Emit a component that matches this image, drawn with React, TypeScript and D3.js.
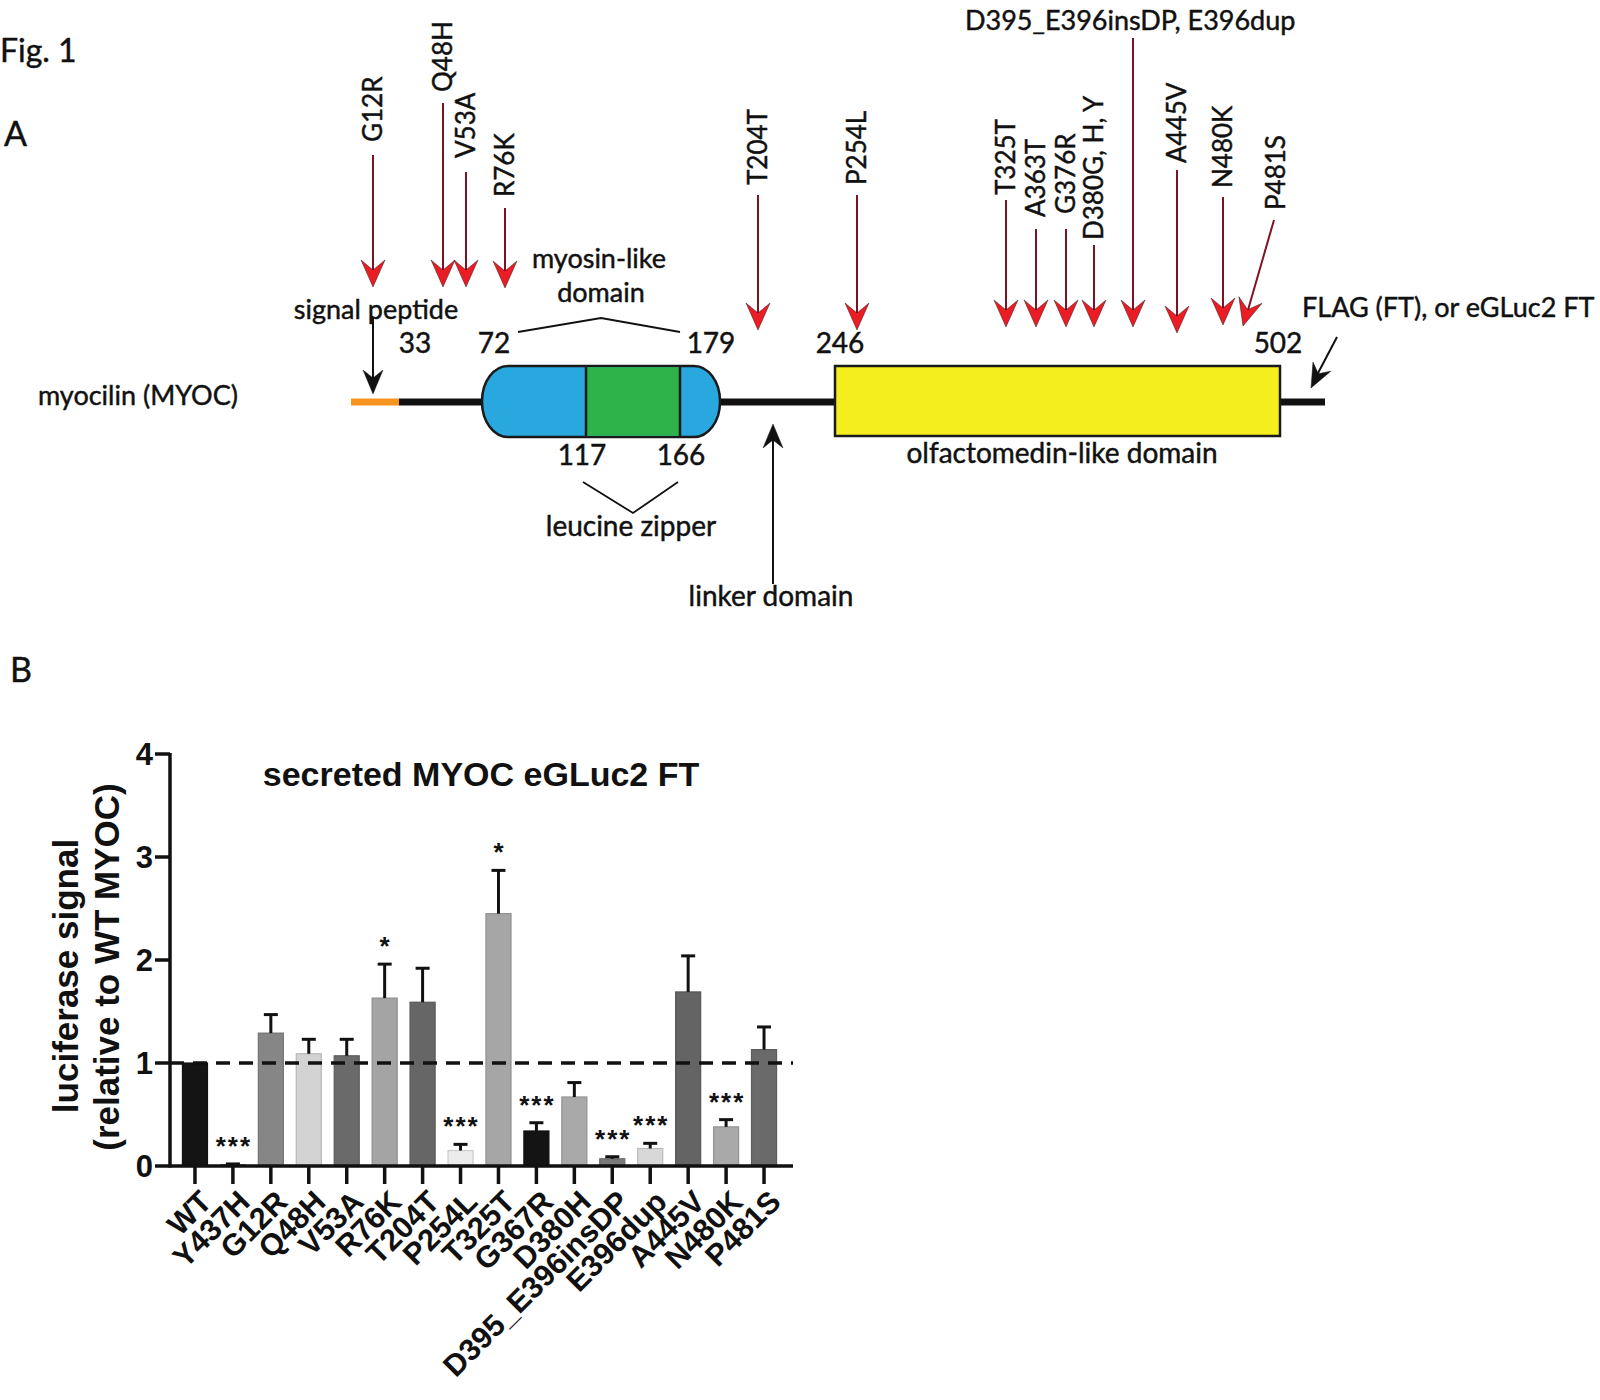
import React from "react";
import * as d3 from "d3";

// ---------- Panel B data ----------
const categories = ["WT", "Y437H", "G12R", "Q48H", "V53A", "R76K", "T204T", "P254L", "T325T", "G367R", "D380H", "D395_E396insDP", "E396dup", "A445V", "N480K", "P481S"];
const means = [1.0, 0.01, 1.29, 1.09, 1.07, 1.63, 1.59, 0.15, 2.45, 0.34, 0.67, 0.07, 0.17, 1.69, 0.38, 1.13];
const sems = [0, 0.01, 0.18, 0.14, 0.16, 0.33, 0.33, 0.06, 0.42, 0.08, 0.14, 0.02, 0.05, 0.35, 0.07, 0.22];
const fills = ["#141414", "#3a3a3a", "#868686", "#d3d3d3", "#6a6a6a", "#a4a4a4", "#666666", "#ececec", "#a6a6a6", "#141414", "#a9a9a9", "#7a7a7a", "#d8d8d8", "#646464", "#a9a9a9", "#6a6a6a"];
const signif = ["", "***", "", "", "", "*", "", "***", "*", "***", "", "***", "***", "", "***", ""];
const yTicks = [0, 1, 2, 3, 4];
const referenceLevel = 1;

// ---------- Panel A data ----------
const residueKnots = [1, 33, 72, 117, 166, 179, 246, 502, 504];
const schematicStops = [351, 399, 482, 586, 680, 720, 835, 1280, 1325];
const positionLabelsTop = [33, 72, 179, 246, 502];
const positionLabelsBottom = [117, 166];
const mutationLabels = ["G12R", "Q48H", "V53A", "R76K", "T204T", "P254L", "T325T", "A363T", "G376R", "D380G, H, Y", "A445V", "N480K"];
const mutationMarkX = [373, 443, 466, 505, 758, 857, 1006, 1036, 1066, 1094, 1177, 1223];
const mutationLabelBase = [142, 92, 158, 197, 185, 185, 195, 217, 214, 240, 163, 188];
const mutationLineTop = [155, 103, 172, 208, 195, 195, 200, 229, 229, 245, 170, 197];
const mutationTip = [287, 287, 287, 288, 330, 330, 327, 327, 327, 327, 333, 325];

const fontA = "Lato, 'Open Sans', sans-serif";
const fontB = "'Liberation Sans', Arial, sans-serif";

function ArrowHead({ x, y, angle, fill, w = 12, l = 27, n = 17 }: any) {
  return (
    <path
      d={`M0,0 L${-w},${-l} L0,${-n} L${w},${-l} Z`}
      transform={`translate(${x},${y}) rotate(${angle})`}
      fill={fill}
    />
  );
}

function PanelA() {
  const xs = d3.scaleLinear().domain(residueKnots).range(schematicStops);
  const lineY = 402;
  const boxTop = 366;
  const boxH = 71;
  const red = "#ec1c24";
  const dark = "#7d1422";
  const topOffset: Record<number, number> = { 33: 16, 72: 12, 179: -9, 246: 5, 502: -2 };
  const botOffset: Record<number, number> = { 117: -4, 166: 1 };
  return (
    <g fontFamily={fontA} fill="#111" stroke="#111" strokeWidth={0.45}>
      <text x={0} y={62} fontSize={32}>Fig. 1</text>
      <text x={4} y={146} fontSize={34}>A</text>
      <text x={38} y={405} fontSize={27}>myocilin (MYOC)</text>

      {/* backbone */}
      <line x1={xs(1)} x2={xs(33)} y1={lineY} y2={lineY} stroke="#f7941d" strokeWidth={7} />
      <line x1={xs(33)} x2={xs(504)} y1={lineY} y2={lineY} stroke="#111" strokeWidth={7} />

      {/* myosin-like domain capsule */}
      <rect x={xs(72)} y={boxTop} width={xs(179) - xs(72)} height={boxH} rx={26} ry={35} fill="#29a7df" stroke="#1a1a1a" strokeWidth={2.5} />
      <rect x={xs(117)} y={boxTop + 1.2} width={xs(166) - xs(117)} height={boxH - 2.4} fill="#2eb24a" stroke="none" />
      <line x1={xs(117)} x2={xs(117)} y1={boxTop} y2={boxTop + boxH} stroke="#1a1a1a" strokeWidth={2.5} />
      <line x1={xs(166)} x2={xs(166)} y1={boxTop} y2={boxTop + boxH} stroke="#1a1a1a" strokeWidth={2.5} />

      {/* olfactomedin domain */}
      <rect x={xs(246)} y={boxTop} width={xs(502) - xs(246)} height={boxH - 1} fill="#f5ee1e" stroke="#1a1a1a" strokeWidth={2.5} />

      {/* position numbers */}
      {positionLabelsTop.map((p) => (
        <text key={"t" + p} x={xs(p) + topOffset[p]} y={353} fontSize={28} textAnchor="middle">{p}</text>
      ))}
      {positionLabelsBottom.map((p) => (
        <text key={"b" + p} x={xs(p) + botOffset[p]} y={465} fontSize={28} textAnchor="middle">{p}</text>
      ))}

      {/* brackets */}
      <polyline points={`${xs(72) + 36},332 ${(xs(72) + xs(179)) / 2},318 ${xs(179) - 40},332`} fill="none" stroke="#111" strokeWidth={1.8} />
      <text x={599} y={268} fontSize={27} textAnchor="middle">myosin-like</text>
      <text x={601} y={302} fontSize={27} textAnchor="middle">domain</text>
      <polyline points={`${xs(117) - 3},482 ${(xs(117) + xs(166)) / 2},513 ${xs(166) - 2},482`} fill="none" stroke="#111" strokeWidth={1.8} />
      <text x={631} y={536} fontSize={28} textAnchor="middle">leucine zipper</text>
      <text x={1062} y={463} fontSize={28} textAnchor="middle">olfactomedin-like domain</text>

      {/* signal peptide */}
      <text x={376} y={319} fontSize={27} textAnchor="middle">signal peptide</text>
      <line x1={373} x2={373} y1={318} y2={378} stroke="#111" strokeWidth={2} />
      <ArrowHead x={373} y={394} angle={0} fill="#111" w={10} l={24} n={16} />

      {/* linker */}
      <line x1={773} x2={773} y1={584} y2={440} stroke="#111" strokeWidth={2} />
      <ArrowHead x={773} y={424} angle={180} fill="#111" w={10} l={24} n={16} />
      <text x={771} y={606} fontSize={28} textAnchor="middle">linker domain</text>

      {/* FLAG */}
      <text x={1302} y={317} fontSize={27}>FLAG (FT), or eGLuc2 FT</text>
      <line x1={1337} x2={1317} y1={337} y2={375} stroke="#111" strokeWidth={2} />
      <ArrowHead x={1311} y={388} angle={27} fill="#111" w={10} l={24} n={16} />

      {/* mutations */}
      {mutationLabels.map((m, i) => {
        const x = mutationMarkX[i];
        return (
          <g key={m}>
            <text transform={`translate(${x + 9},${mutationLabelBase[i]}) rotate(-90)`} fontSize={26}>{m}</text>
            <line x1={x} x2={x} y1={mutationLineTop[i]} y2={mutationTip[i] - 16} stroke={dark} strokeWidth={2} />
            <ArrowHead x={x} y={mutationTip[i]} angle={0} fill={red} />
          </g>
        );
      })}
      {/* insertion/duplication */}
      <text x={965} y={30} fontSize={27}>D395_E396insDP, E396dup</text>
      <line x1={1133} x2={1133} y1={38} y2={311} stroke={dark} strokeWidth={2} />
      <ArrowHead x={1133} y={327} angle={0} fill={red} />
      {/* P481S slanted */}
      <text transform={`translate(${1285},${210}) rotate(-90)`} fontSize={26}>P481S</text>
      <line x1={1274} x2={1248} y1={220} y2={310} stroke={dark} strokeWidth={2} />
      <ArrowHead x={1243} y={326} angle={16} fill={red} />
    </g>
  );
}

function PanelB() {
  const y0 = 1166;
  const axisX = 170;
  const axisEnd = 793;
  const y = d3.scaleLinear().domain([0, 4]).range([y0, 754]);
  const x = d3.scaleBand<string>().domain(categories).range([176, 783]).paddingInner(0.34).paddingOuter(0.17);
  const bw = x.bandwidth();
  return (
    <g fontFamily={fontB} fontWeight="bold" fill="#111">
      <text x={10} y={682} fontSize={34} fontWeight="normal" fontFamily={fontA} stroke="#111" strokeWidth={0.45}>B</text>
      <text x={481} y={786} fontSize={34} textAnchor="middle">secreted MYOC eGLuc2 FT</text>
      <text transform={`translate(78,976) rotate(-90)`} fontSize={35} textAnchor="middle">luciferase signal</text>
      <text transform={`translate(119,967) rotate(-90)`} fontSize={35} textAnchor="middle">(relative to WT MYOC)</text>

      {/* bars */}
      {categories.map((c, i) => {
        const cx = (x(c) as number) + bw / 2;
        const top = y(means[i]);
        const errTop = y(means[i] + sems[i]);
        const stroke = d3.color(fills[i])!.darker(0.4).toString();
        return (
          <g key={c}>
            <rect x={x(c)} y={top} width={bw} height={y0 - top} fill={fills[i]} stroke={stroke} strokeWidth={1.2} />
            {sems[i] > 0 && (
              <g stroke="#111" strokeWidth={3}>
                <line x1={cx} x2={cx} y1={top} y2={errTop} />
                <line x1={cx - 7} x2={cx + 7} y1={errTop} y2={errTop} />
              </g>
            )}
            {signif[i] && (
              <text x={cx + 1} y={errTop - 24 + 15} fontSize={26} textAnchor="middle" letterSpacing={2}>{signif[i]}</text>
            )}
          </g>
        );
      })}

      {/* reference line */}
      <line x1={axisX} x2={axisEnd} y1={y(referenceLevel)} y2={y(referenceLevel)} stroke="#111" strokeWidth={3.5} strokeDasharray="14 9" />

      {/* axes */}
      <line x1={axisX} x2={axisX} y1={y(4) - 1} y2={y0 + 1.5} stroke="#111" strokeWidth={3.5} />
      {yTicks.map((t) => (
        <g key={t}>
          <line x1={axisX - 15} x2={axisX} y1={y(t)} y2={y(t)} stroke="#111" strokeWidth={3.5} />
          <text x={axisX - 17} y={y(t) + 11} fontSize={31} textAnchor="end">{t}</text>
        </g>
      ))}
      <line x1={axisX} x2={axisEnd} y1={y0} y2={y0} stroke="#111" strokeWidth={3.5} />
      {categories.map((c) => {
        const cx = (x(c) as number) + bw / 2;
        return (
          <g key={"tick" + c}>
            <line x1={cx} x2={cx} y1={y0} y2={y0 + 18} stroke="#111" strokeWidth={3.5} />
            <text transform={`translate(${cx + 11},${y0 + 30}) rotate(-45)`} dy="0.35em" fontSize={30.5} textAnchor="end">{c}</text>
          </g>
        );
      })}
    </g>
  );
}

export default function App() {
  return (
    <svg width={1600} height={1400} style={{ position: "absolute", left: 0, top: 0, background: "#fff" }}>
      <rect width={1600} height={1400} fill="#fff" />
      <PanelA />
      <PanelB />
    </svg>
  );
}
